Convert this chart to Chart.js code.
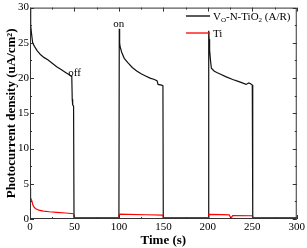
<!DOCTYPE html>
<html>
<head>
<meta charset="utf-8">
<script src="https://cdn.jsdelivr.net/npm/chart.js@4.4.1/dist/chart.umd.min.js"></script>
<style>
  html, body { margin: 0; padding: 0; background: #fff; }
  #wrap { width: 307px; height: 248px; }
</style>
</head>
<body>
<div id="wrap"><canvas id="c" width="307" height="248"></canvas></div>
<script>
// time (s) / photocurrent (uA/cm2)
const blackT = [0, 0.5, 1, 2, 3, 5, 8, 12, 16, 20, 25, 30, 35, 40, 45, 47, 47.5, 48, 49, 49.5, 50, 75, 100,
  100.4, 100.8, 101.3, 103, 106, 110, 115, 120, 125, 130, 135, 140, 143, 144, 148, 149.5, 149.9, 175, 200.8,
  201, 201.5, 202, 203, 204, 207, 210, 215, 220, 228, 235, 243, 246, 248, 250, 250.5, 275, 300];
const blackY = [29.8, 28.5, 27.5, 26, 25, 24.5, 23.9, 23.3, 22.9, 22.6, 22.1, 21.6, 21.2, 20.8, 20.4, 20.2, 17, 16.2, 16, 0.3, 0.18, 0.15, 0.15,
  27, 25, 24.5, 23.7, 22.8, 22.2, 21.5, 21, 20.6, 20.3, 20, 19.8, 19.6, 19.1, 19, 18.9, 0.2, 0.15, 0.15,
  26.7, 25.5, 24, 22.5, 21.4, 21, 20.8, 20.5, 20.2, 19.8, 19.5, 19.1, 19.3, 19.2, 19, 0.2, 0.15, 0.15];

const redT = [0, 0.3, 1, 2, 3, 4, 6, 10, 15, 22, 30, 40, 49, 49.5, 75, 100,
  100.5, 110, 130, 149.5, 150, 175, 200.5, 201, 215, 224, 226, 228, 250, 250.5, 275, 300];
const redY = [4.4, 3.8, 3, 2.6, 2.1, 1.8, 1.5, 1.25, 1.12, 1.03, 0.95, 0.85, 0.75, 0.12, 0.12, 0.12,
  0.7, 0.66, 0.6, 0.56, 0.12, 0.12, 0.12, 0.66, 0.63, 0.58, 0.15, 0.48, 0.46, 0.12, 0.12, 0.12];

const xTicks = [0, 50, 100, 150, 200, 250, 300];
const yTicks = [0, 5, 10, 15, 20, 25, 30];

const toPts = (xs, ys) => xs.map((x, i) => ({ x: x, y: ys[i] }));
const SERIF = '"Liberation Serif", "DejaVu Serif", serif';

// box, inward ticks, legend and labels
const decor = {
  id: 'decor',
  afterDraw(chart) {
    const ctx = chart.ctx;
    const a = chart.chartArea;
    const xs = chart.scales.x, ys = chart.scales.y;
    ctx.save();
    ctx.strokeStyle = '#333';
    ctx.lineWidth = 1;
    ctx.strokeRect(a.left + 0.5, a.top + 0.5, a.right - a.left - 1, a.bottom - a.top - 1);
    ctx.beginPath();
    for (let v = 0; v <= 300; v += 25) {
      const px = Math.round(xs.getPixelForValue(v)) + 0.5;
      const len = v % 50 === 0 ? 4 : 2;
      ctx.moveTo(px, a.bottom); ctx.lineTo(px, a.bottom - len);
      ctx.moveTo(px, a.top); ctx.lineTo(px, a.top + len);
    }
    for (let v = 0; v <= 30; v += 2.5) {
      const py = Math.round(ys.getPixelForValue(v)) + 0.5;
      const len = v % 5 === 0 ? 4 : 2;
      ctx.moveTo(a.left, py); ctx.lineTo(a.left + len, py);
      ctx.moveTo(a.right, py); ctx.lineTo(a.right - len, py);
    }
    ctx.stroke();

    // legend
    ctx.lineWidth = 1.3;
    ctx.strokeStyle = '#000';
    ctx.beginPath(); ctx.moveTo(186, 16); ctx.lineTo(210, 16); ctx.stroke();
    ctx.strokeStyle = '#f00';
    ctx.beginPath(); ctx.moveTo(186, 33); ctx.lineTo(210, 33); ctx.stroke();
    ctx.fillStyle = '#000';
    ctx.textBaseline = 'alphabetic';
    ctx.textAlign = 'left';
    const big = '11px ' + SERIF, small = '7px ' + SERIF;
    let x = 213;
    const part = (t, f, dy) => { ctx.font = f; ctx.fillText(t, x, 20 + dy); x += ctx.measureText(t).width; };
    part('V', big, 0); part('O', small, 2); part('-N-TiO', big, 0); part('2', small, 2); part(' (A/R)', big, 0);
    ctx.font = big;
    ctx.fillText('Ti', 213, 37);

    // on / off marks
    ctx.fillText('off', xs.getPixelForValue(43), ys.getPixelForValue(20.3));
    ctx.fillText('on', xs.getPixelForValue(93.5), ys.getPixelForValue(27.3));
    ctx.restore();
  }
};

new Chart(document.getElementById('c'), {
  type: 'line',
  data: {
    datasets: [
      { label: 'Ti', data: toPts(redT, redY), borderColor: '#f00', borderWidth: 1.2, pointRadius: 0, tension: 0 },
      { label: 'VO-N-TiO2 (A/R)', data: toPts(blackT, blackY), borderColor: '#111', borderWidth: 1.2, pointRadius: 0, tension: 0 }
    ]
  },
  options: {
    responsive: false,
    animation: false,
    layout: { padding: { top: 6, right: 10, left: 0, bottom: 0 } },
    plugins: { legend: { display: false }, tooltip: { enabled: false } },
    scales: {
      x: {
        type: 'linear', min: 0, max: 300,
        afterFit: s => { s.height = 29; },
        afterBuildTicks: s => { s.ticks = xTicks.map(v => ({ value: v })); },
        grid: { display: false, drawTicks: false },
        border: { display: false },
        ticks: { color: '#000', padding: 2, maxRotation: 0, font: { family: SERIF, size: 11 } },
        title: { display: true, text: 'Time (s)', color: '#000', padding: { top: 0, bottom: 0 }, font: { family: SERIF, size: 13, weight: 'bold' } }
      },
      y: {
        min: 0, max: 30,
        afterFit: s => { s.width = 30; },
        afterBuildTicks: s => { s.ticks = yTicks.map(v => ({ value: v })); },
        grid: { display: false, drawTicks: false },
        border: { display: false },
        ticks: { color: '#000', padding: 1, font: { family: SERIF, size: 11 } },
        title: { display: true, text: 'Photocurrent density (uA/cm²)', color: '#000', padding: { top: 4, bottom: 0 }, font: { family: SERIF, size: 13, weight: 'bold' } }
      }
    }
  },
  plugins: [decor]
});
</script>
</body>
</html>
